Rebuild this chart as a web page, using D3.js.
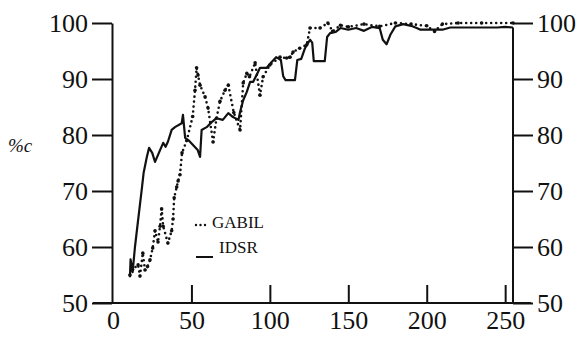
<!DOCTYPE html>
<html>
<head>
<meta charset="utf-8">
<script src="https://cdn.jsdelivr.net/npm/d3@7"></script>
<style>
  body { margin: 0; background: #fff; }
  svg { display: block; }
  .axis text { font-family: "Liberation Serif", "Times New Roman", serif; font-size: 26px; fill: #111; }
  .axis line, .axis path { stroke: #111; stroke-width: 2; }
</style>
</head>
<body>
<div class="chart"></div>
<script>
// values (x = training examples, y = % correct)
const xTicks = [0, 50, 100, 150, 200, 250];
const yTicks = [50, 60, 70, 80, 90, 100];
const seriesNames = ["GABIL", "IDSR"];

const idsrX = [10.8, 11.2, 12.5, 14, 16, 18.5, 19.5, 21.6, 23, 25, 26.8, 30, 32, 33.5, 35, 37.4, 39.5, 43.8, 44.6, 46,
  48, 51, 54, 55.5, 56.5, 59.7, 62.9, 66, 70, 73.5, 76.5, 80, 81, 83, 85.3, 87.4, 89.4, 92, 93.7, 98,
  101, 104, 107, 108.5, 110, 116, 117.5, 120, 122.4, 125.6, 127, 128, 135, 136.5, 138.4, 142, 145, 150, 155, 160,
  165, 170, 172, 174.4, 177, 180, 185, 190, 193.6, 196, 210, 215, 245, 250, 255];
const idsrY = [54.6, 57.8, 55.5, 60, 64.8, 70.7, 73.2, 76.1, 77.7, 76.8, 75.2, 77.3, 78.6, 77.9, 78.8, 80.9, 81.4, 82.1, 83.6, 79.5,
  79.1, 78.2, 77.3, 76.1, 80.9, 81.4, 82.3, 83, 82.7, 83.9, 83.2, 82.7, 84.1, 86.2, 87.7, 89.5, 89.5, 91, 92, 92,
  93, 93.9, 93.4, 90.5, 89.8, 89.8, 93.4, 93.6, 95.5, 97, 96.5, 93.2, 93.2, 97.5, 98.2, 98.4, 99.1, 98.8, 99.1, 98.6,
  99.3, 99.1, 97, 96.2, 98, 99.4, 99.8, 99.5, 99.1, 98.8, 98.8, 99.2, 99.2, 99.3, 99.2];

const gabilX = [10.8, 12.5, 16, 17.2, 19, 20.4, 22, 23.6, 25.3, 26.8, 28.7, 30, 31, 32, 35, 37.4, 38.3, 39, 40.6, 41.5,
  42.7, 44, 47, 50.8, 52.3, 53.3, 54.2, 55.5, 58.7, 60.6, 63.8, 66, 68.2, 71.4, 73.5, 77, 81, 83, 85.3, 87,
  90.6, 93.7, 95.7, 100, 106.5, 110.7, 112.9, 114.8, 119, 123.5, 125.6, 132, 137, 140, 145, 150, 160, 170, 180, 190,
  200, 205, 210, 220, 235, 255];
const gabilY = [55, 56, 56.8, 54.8, 58.9, 55.9, 56.5, 57.7, 59.8, 62.9, 60.9, 63.7, 66.8, 63.7, 60.7, 62.9, 65, 68.8, 70.7, 71.8,
  72.9, 76.8, 79, 83.3, 88, 92, 90.7, 88.9, 86.8, 84.8, 78.75, 83, 86, 88, 88.9, 84, 80.9, 89.3, 91, 90.4,
  92.9, 87.1, 90.4, 92.5, 93.9, 93.75, 93.9, 94.8, 95.5, 96.1, 99.1, 99.1, 100, 98.5, 99.6, 99.3, 99.8, 99.4, 100, 99.8,
  99.5, 98.5, 99.8, 100, 100, 100];

const width = 582, height = 344;
const svg = d3.select(".chart").append("svg")
    .attr("width", width)
    .attr("height", height);

const x = d3.scaleLinear().domain([0, 255]).range([113, 513]);
const y = d3.scaleLinear().domain([50, 100]).range([303, 23]);

// axes
svg.append("g")
    .attr("class", "axis axis--y")
    .attr("transform", `translate(${x(0) - 1}, 0)`)
    .call(d3.axisLeft(y).tickValues(yTicks).tickSize(20).tickSizeOuter(0).tickPadding(4));

svg.append("g")
    .attr("class", "axis axis--y2")
    .attr("transform", `translate(${x(255)}, 0)`)
    .call(d3.axisRight(y).tickValues(yTicks).tickSize(20).tickSizeOuter(0).tickPadding(4))
    .select(".domain").attr("d", `M0,${y(99.2)}V${y(50)}`);

const xAxis = svg.append("g")
    .attr("class", "axis axis--x")
    .attr("transform", `translate(0, ${y(50)})`)
    .call(d3.axisBottom(x).tickValues(xTicks).tickSize(-18).tickSizeOuter(0).tickPadding(6));
xAxis.select(".domain").attr("d", `M${x(0) - 20},0H${x(255) + 18}`);
xAxis.selectAll(".tick text").attr("dy", "0.78em");
xAxis.selectAll(".tick").filter(d => d === 0).select("line").remove();

// y label
svg.append("text")
    .attr("x", 8)
    .attr("y", 152)
    .attr("font-family", "Liberation Serif, serif")
    .attr("font-style", "italic")
    .attr("font-size", 19)
    .attr("fill", "#111")
    .text("%c");

// series
const line = d3.line()
    .x(d => x(d[0]))
    .y(d => y(d[1]));

svg.append("path")
    .datum(d3.zip(idsrX, idsrY))
    .attr("fill", "none")
    .attr("stroke", "#111")
    .attr("stroke-width", 2.2)
    .attr("stroke-linejoin", "round")
    .attr("d", line);

svg.append("path")
    .datum(d3.zip(gabilX, gabilY))
    .attr("fill", "none")
    .attr("stroke", "#111")
    .attr("stroke-width", 2.6)
    .attr("stroke-linecap", "round")
    .attr("stroke-dasharray", "0,5")
    .attr("d", line);

svg.selectAll(".gabil-dot")
    .data(d3.zip(gabilX, gabilY))
    .enter()
    .append("circle")
    .attr("class", "gabil-dot")
    .attr("cx", d => x(d[0]))
    .attr("cy", d => y(d[1]))
    .attr("r", 1.8)
    .attr("fill", "#111");

// legend
const legend = svg.append("g")
    .attr("font-family", "Liberation Serif, serif")
    .attr("font-size", 17)
    .attr("fill", "#111");

legend.append("line")
    .attr("x1", 196).attr("x2", 206)
    .attr("y1", 225).attr("y2", 225)
    .attr("stroke", "#111")
    .attr("stroke-width", 2.4)
    .attr("stroke-linecap", "round")
    .attr("stroke-dasharray", "0,4.5");
legend.append("text").attr("x", 212).attr("y", 228).text(seriesNames[0]);

legend.append("line")
    .attr("x1", 196).attr("x2", 213)
    .attr("y1", 257).attr("y2", 257)
    .attr("stroke", "#111")
    .attr("stroke-width", 2);
legend.append("text").attr("x", 219).attr("y", 253).text(seriesNames[1]);
</script>
</body>
</html>
